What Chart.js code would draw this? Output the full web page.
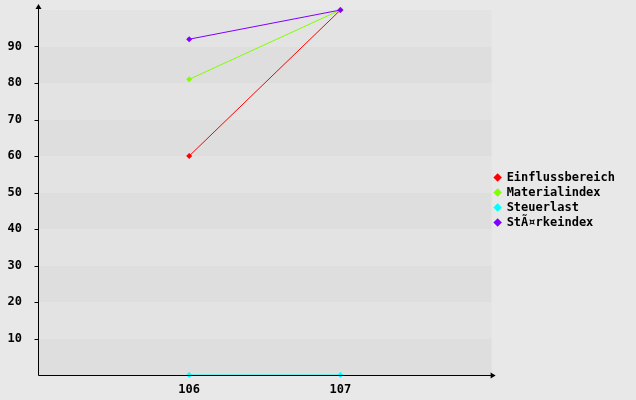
<!DOCTYPE html>
<html>
<head>
<meta charset="utf-8">
<script src="https://cdn.jsdelivr.net/npm/chart.js@4"></script>
<style>
  html, body { margin: 0; padding: 0; background: #e8e8e8; }
  #wrap { width: 636px; height: 400px; }
</style>
</head>
<body>
<div id="wrap"><canvas id="chart" width="636" height="400"></canvas></div>
<script>
// data
const categories = [106, 107];
const einflussbereich = [60, 100];
const materialindex = [81, 100];
const steuerlast = [0, 0];
const staerkeindex = [92, 100];
const yTicks = [10, 20, 30, 40, 50, 60, 70, 80, 90];

const toPoints = (vals) => categories.map((c, i) => ({ x: c, y: vals[i] }));

const font = { family: "'DejaVu Sans Mono', monospace", size: 12, weight: "bold" };

// striped background and arrow axes
const axesPlugin = {
	id: "axes",
	beforeDatasetsDraw(chart) {
		const { ctx, chartArea, scales } = chart;
		const y = scales.y;
		ctx.save();
		for (let i = 0; i < 10; i++) {
			const top = y.getPixelForValue((i + 1) * 10);
			const bottom = y.getPixelForValue(i * 10);
			ctx.fillStyle = i % 2 === 0 ? "#dedede" : "#e3e3e3";
			ctx.fillRect(chartArea.left, top, chartArea.right - chartArea.left, bottom - top);
		}
		ctx.restore();
	},
	afterDraw(chart) {
		const { ctx, chartArea, scales } = chart;
		const left = Math.round(chartArea.left) + 0.5;
		const bottom = Math.round(chartArea.bottom) + 0.5;
		ctx.save();
		ctx.strokeStyle = "#000";
		ctx.fillStyle = "#000";
		ctx.lineWidth = 1;
		ctx.beginPath();
		ctx.moveTo(left, bottom);
		ctx.lineTo(left, 5);
		ctx.moveTo(left, bottom);
		ctx.lineTo(chartArea.right + 3, bottom);
		yTicks.forEach((v) => {
			const py = Math.round(scales.y.getPixelForValue(v)) + 0.5;
			ctx.moveTo(left - 4, py);
			ctx.lineTo(left, py);
		});
		ctx.stroke();
		// arrow heads
		ctx.beginPath();
		ctx.moveTo(left, 4);
		ctx.lineTo(left - 3, 9);
		ctx.lineTo(left + 3, 9);
		ctx.closePath();
		ctx.fill();
		const ax = chartArea.right + 4;
		ctx.beginPath();
		ctx.moveTo(ax, bottom);
		ctx.lineTo(ax - 5, bottom - 3);
		ctx.lineTo(ax - 5, bottom + 3);
		ctx.closePath();
		ctx.fill();
		ctx.restore();
	},
};

// later series are drawn on top, like in the picture
const mkSet = (label, vals, color, order) => ({
	label: label,
	data: toPoints(vals),
	borderColor: color,
	backgroundColor: color,
	borderWidth: 1,
	pointStyle: "rectRot",
	pointRadius: 3,
	pointBorderWidth: 0,
	clip: false,
	order: order,
});

new Chart(document.getElementById("chart"), {
	type: "line",
	data: {
		datasets: [
			mkSet("Einflussbereich", einflussbereich, "#ff0000", 3),
			mkSet("Materialindex", materialindex, "#80ff00", 2),
			mkSet("Steuerlast", steuerlast, "#00ffff", 1),
			mkSet("StÃ¤rkeindex", staerkeindex, "#8000ff", 0),
		],
	},
	plugins: [axesPlugin],
	options: {
		responsive: false,
		animation: false,
		devicePixelRatio: 1,
		layout: { padding: { top: 0, right: 11, left: 0, bottom: 0 } },
		scales: {
			x: {
				type: "linear",
				min: 105,
				max: 108,
				grid: { display: false },
				border: { display: false },
				ticks: {
					stepSize: 1,
					color: "#000",
					font: font,
					padding: 0,
					callback: (v) => (categories.includes(v) ? String(v) : ""),
				},
				afterFit: (s) => { s.height = 25; s.paddingLeft = 0; s.paddingRight = 0; },
			},
			y: {
				min: 0,
				max: 100,
				grid: { display: false },
				border: { display: false },
				ticks: {
					stepSize: 10,
					color: "#000",
					font: font,
					padding: 8,
					callback: (v) => (yTicks.includes(v) ? String(v) : ""),
				},
				afterFit: (s) => { s.width = 38; s.paddingTop = 10; s.paddingBottom = 0; },
			},
		},
		plugins: {
			tooltip: { enabled: false },
			legend: {
				position: "right",
				labels: {
					usePointStyle: true,
					pointStyle: "rectRot",
					boxWidth: 6,
					boxHeight: 6,
					padding: 3,
					color: "#000",
					font: font,
					sort: (a, b) => a.datasetIndex - b.datasetIndex,
				},
			},
		},
	},
});
</script>
</body>
</html>
